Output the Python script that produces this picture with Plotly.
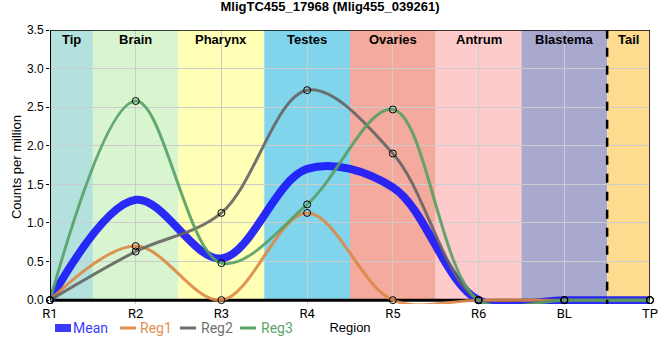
import plotly.graph_objects as go

regions = ["R1", "R2", "R3", "R4", "R5", "R6", "BL", "TP"]
mean = [0.0, 1.30, 0.54, 1.70, 1.46, 0.0, 0.0, 0.0]
reg1 = [0.0, 0.70, 0.0, 1.13, 0.0, 0.0, 0.0, 0.0]
reg2 = [0.0, 0.63, 1.13, 2.72, 1.90, 0.0, 0.0, 0.0]
reg3 = [0.0, 2.58, 0.48, 1.24, 2.47, 0.0, 0.0, 0.0]

band_names = ["Tip", "Brain", "Pharynx", "Testes", "Ovaries", "Antrum", "Blastema", "Tail"]
band_edges = [0, 0.5, 1.5, 2.5, 3.5, 4.5, 5.5, 6.5, 7]
band_colors = ["#b3e2de", "#d8f5d0", "#ffffb5", "#80d5ec", "#f4aa9c", "#fdcbcb", "#a9a8cf", "#fddc8f"]
tail_boundary = 6.5

xs = list(range(len(regions)))

# name, values, line colour, width, markers, legend text colour
series = [
    ("Mean", mean, "rgba(25,25,250,0.92)", 8, False, "#3b3bff"),
    ("Reg1", reg1, "rgba(222,135,70,0.9)", 3, True, "#e38f52"),
    ("Reg2", reg2, "rgba(100,100,100,0.9)", 3, True, "#707070"),
    ("Reg3", reg3, "rgba(85,160,100,0.9)", 3, True, "#5aa468"),
]

# plot-area geometry (pixels) used for legend placement
L, R, T, B = 50, 10, 30, 56
W, H = 660 - L - R, 360 - T - B

def px(xp):
    return (xp - L) / W

def py(yp):
    return (360 - B - yp) / H

fig = go.Figure()
for name, vals, col, w, mk, tcol in series:
    fig.add_trace(go.Scatter(
        x=xs, y=vals, mode="lines",
        line=dict(color=col, width=w, shape="spline", smoothing=1.0),
        name=name, showlegend=False,
    ))
for name, vals, col, w, mk, tcol in series:
    if mk:
        fig.add_trace(go.Scatter(
            x=xs, y=vals, mode="markers",
            marker=dict(symbol="circle-open", size=7, color="black", line=dict(width=1)),
            name=name, showlegend=False, cliponaxis=False, hoverinfo="skip",
        ))

shapes = []
annotations = []
for i, nm in enumerate(band_names):
    x0, x1 = band_edges[i], band_edges[i + 1]
    shapes.append(dict(type="rect", xref="x", yref="y", x0=x0, x1=x1, y0=0, y1=3.5,
                       fillcolor=band_colors[i], line=dict(width=0), layer="below"))
    annotations.append(dict(x=(x0 + x1) / 2, y=1, xref="x", yref="paper", yanchor="top",
                            yshift=0, text=f"<b>{nm}</b>", showarrow=False,
                            font=dict(size=13, color="black", family="Arial")))
# bottom axis line (under the traces, over the grid)
shapes.append(dict(type="line", xref="x", yref="y", x0=0, x1=7, y0=0, y1=0,
                   line=dict(color="black", width=3), layer="between"))
# dashed tail boundary
shapes.append(dict(type="line", xref="x", yref="y", x0=tail_boundary, x1=tail_boundary,
                   y0=-0.11, y1=3.5, line=dict(color="black", width=2.5, dash="dash"), layer="above"))
# frame
shapes.append(dict(type="line", xref="x", yref="y", x0=0, x1=0, y0=0, y1=3.5,
                   line=dict(color="black", width=2), layer="above"))
shapes.append(dict(type="line", xref="x", yref="y", x0=0, x1=7, y0=3.5, y1=3.5,
                   line=dict(color="black", width=1.5), layer="above"))
shapes.append(dict(type="line", xref="x", yref="y", x0=7, x1=7, y0=0, y1=3.5,
                   line=dict(color="black", width=1.5), layer="above"))

# manual compact legend
leg_y = 328
leg_sym_x = [55, 120, 180, 240]
leg_txt_x = [72, 139, 200, 260]
for (name, vals, col, w, mk, tcol), sx, tx in zip(series, leg_sym_x, leg_txt_x):
    shapes.append(dict(type="line", xref="paper", yref="paper", x0=px(sx), x1=px(sx + 16),
                       y0=py(leg_y), y1=py(leg_y), line=dict(color=tcol, width=8 if w > 3 else 3)))
    annotations.append(dict(x=px(tx), y=py(leg_y), xref="paper", yref="paper", xanchor="left",
                            yanchor="middle", text=name, showarrow=False, borderpad=0,
                            font=dict(size=14, color=tcol, family="Roboto")))

fig.update_layout(
    width=660, height=360,
    margin=dict(l=L, r=R, t=T, b=B),
    plot_bgcolor="white", paper_bgcolor="white",
    title=dict(text="<b>MligTC455_17968 (Mlig455_039261)</b>", x=0.5, xanchor="center",
               y=1, yanchor="top", pad=dict(t=2), font=dict(size=13, color="black", family="Arial")),
    font=dict(family="Arial", color="black", size=12),
    shapes=shapes, annotations=annotations,
    showlegend=False,
    xaxis=dict(range=[0, 7], tickvals=xs, ticktext=regions, showgrid=True, gridcolor="#cccccc",
               gridwidth=1, showline=False, ticks="", ticklabeloverflow="allow", automargin=False,
               tickfont=dict(size=13, family="Roboto", color="black"),
               title=dict(text="Region", font=dict(size=13), standoff=2), zeroline=False),
    yaxis=dict(range=[-0.05, 3.5], tickvals=[0, 0.5, 1, 1.5, 2, 2.5, 3, 3.5], tickformat=".1f",
               showgrid=True, gridcolor="#cccccc", showline=False, ticks="outside", ticklen=3,
               tickcolor="black", automargin=False,
               title=dict(text="Counts per million", font=dict(size=13), standoff=2),
               zeroline=False, tickfont=dict(size=12)),
)

fig.write_html("out.html", config={"displayModeBar": False},
               post_script="document.body.style.margin='0';document.body.style.overflow='hidden';")
